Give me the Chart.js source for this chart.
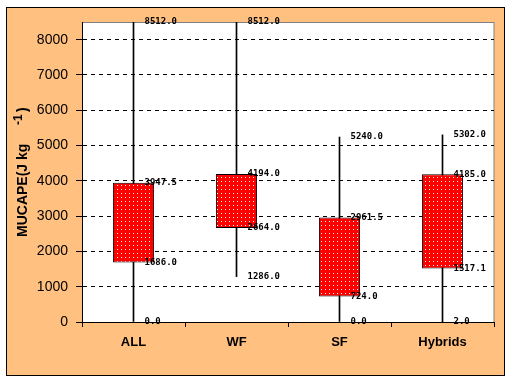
<!DOCTYPE html>
<html><head><meta charset="utf-8">
<script src="https://cdn.jsdelivr.net/npm/chart.js@4/dist/chart.umd.min.js"></script>
<style>html,body{margin:0;padding:0;background:#fff}#wrap{width:512px;height:384px}</style>
</head><body><div id="wrap"><canvas id="c" width="512" height="384"></canvas></div>
<script>
const categories = ['ALL', 'WF', 'SF', 'Hybrids'];
const minValues = [0.0, 1286.0, 0.0, 2.0];
const q1Values = [1686.0, 2664.0, 724.0, 1517.1];
const q3Values = [3947.5, 4194.0, 2961.5, 4185.0];
const maxValues = [8512.0, 8512.0, 5240.0, 5302.0];
const yTickValues = [0, 1000, 2000, 3000, 4000, 5000, 6000, 7000, 8000];
const yAxisTitle = 'MUCAPE(J kg';
const yAxisTitleSup = '-1';

const canvas = document.getElementById('c');
const ctx = canvas.getContext('2d');

function makePattern() {
  const p = document.createElement('canvas');
  p.width = 4; p.height = 4;
  const g = p.getContext('2d');
  g.fillStyle = '#ff0000'; g.fillRect(0, 0, 4, 4);
  g.fillStyle = '#ffffff'; g.fillRect(1, 1, 1, 1);
  return ctx.createPattern(p, 'repeat');
}

const backgroundPlugin = {
  id: 'bg',
  beforeDraw(chart) {
    const c = chart.ctx, a = chart.chartArea;
    c.save();
    c.fillStyle = '#ffffff';
    c.fillRect(0, 0, chart.width, chart.height);
    c.fillStyle = '#ffc080';
    c.fillRect(6, 7, 499, 369);
    c.strokeStyle = '#000000';
    c.lineWidth = 1;
    c.strokeRect(6.5, 7.5, 498, 368);
    c.fillStyle = '#ffffff';
    c.fillRect(a.left, a.top, a.right - a.left, a.bottom - a.top);
    c.strokeStyle = '#808080';
    c.strokeRect(a.left + 0.5, a.top + 0.5, a.right - a.left - 0.5, a.bottom - a.top);
    c.restore();
  }
};

const labelPlugin = {
  id: 'vals',
  afterDraw(chart) {
    const c = chart.ctx;
    const xs = chart.scales.x, ys = chart.scales.y;
    c.save();
    c.fillStyle = '#000';
    c.font = 'bold 9px "DejaVu Sans Mono"';
    c.textAlign = 'left';
    c.textBaseline = 'middle';
    categories.forEach((cat, i) => {
      const x = xs.getPixelForValue(i) + 11;
      [maxValues[i], q3Values[i], q1Values[i], minValues[i]].forEach(v => {
        c.fillText(v.toFixed(1), x, ys.getPixelForValue(v));
      });
    });
    // y axis title
    c.translate(27, 237);
    c.rotate(-Math.PI / 2);
    c.textBaseline = 'alphabetic';
    c.font = 'bold 14px "Liberation Sans", Arial, sans-serif';
    c.fillText(yAxisTitle, 0, 0);
    c.font = 'bold 12px "Liberation Sans", Arial, sans-serif';
    c.fillText(yAxisTitleSup, 112, -5);
    c.font = 'bold 14px "Liberation Sans", Arial, sans-serif';
    c.fillText(')', 125, 0);
    c.restore();
  }
};

new Chart(ctx, {
  type: 'bar',
  data: {
    labels: categories,
    datasets: [
      {
        label: 'box',
        data: categories.map((_, i) => [q1Values[i], q3Values[i]]),
        backgroundColor: makePattern(),
        borderColor: '#000000',
        borderWidth: 1,
        borderSkipped: false,
        barPercentage: 0.4,
        categoryPercentage: 1.0,
        grouped: false,
        order: 1
      },
      {
        label: 'range',
        data: categories.map((_, i) => [minValues[i], maxValues[i]]),
        backgroundColor: '#000000',
        borderWidth: 0,
        barThickness: 1,
        grouped: false,
        order: 2
      }
    ]
  },
  options: {
    responsive: false,
    animation: false,
    devicePixelRatio: 1,
    layout: { padding: { left: 0, right: 18, top: 22, bottom: 22 } },
    plugins: { legend: { display: false }, tooltip: { enabled: false }, title: { display: false } },
    scales: {
      x: {
        grid: { drawOnChartArea: false, drawTicks: true, tickLength: 5, tickColor: '#000', offset: true },
        border: { display: true, color: '#000', width: 1 },
        ticks: { color: '#000', padding: 8, font: { family: '"Liberation Sans", Arial, sans-serif', size: 13, weight: 'bold' } },
        afterFit(s) { s.height = 40; }
      },
      y: {
        min: 0, max: 8500,
        afterBuildTicks(s) { s.ticks = yTickValues.map(v => ({ value: v })); },
        grid: { color: '#000', lineWidth: 1, tickLength: 6, tickColor: '#000', tickBorderDash: [] },
        border: { display: true, color: '#000', width: 1, dash: [4, 4] },
        ticks: { color: '#000', padding: 8, callback: v => String(v), font: { family: '"Liberation Sans", Arial, sans-serif', size: 14 } },
        afterFit(s) { s.width = 82; }
      }
    }
  },
  plugins: [backgroundPlugin, labelPlugin]
});
</script>
</body></html>
